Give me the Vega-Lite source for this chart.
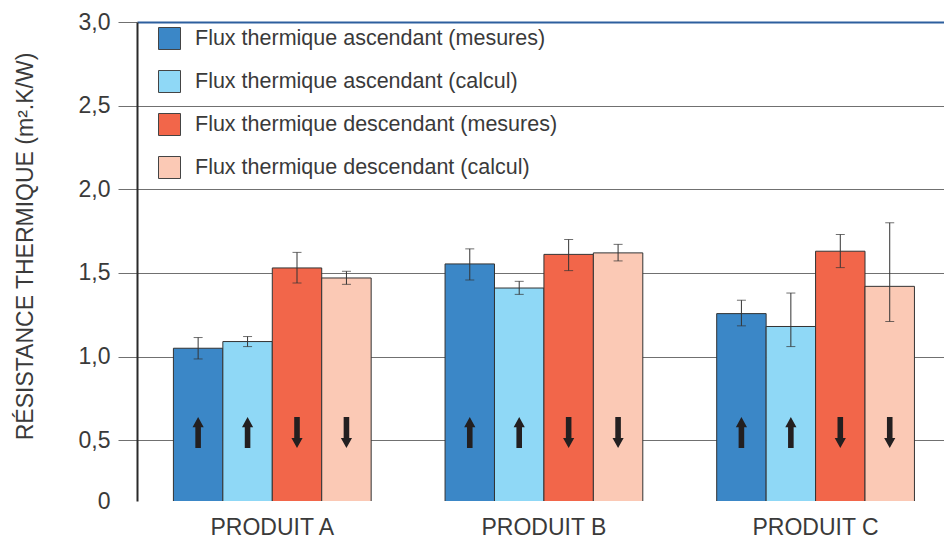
{
  "$schema": "https://vega.github.io/schema/vega-lite/v6.json",
  "autosize": "none",
  "width": 807,
  "height": 479,
  "padding": {"left": 137, "top": 22, "right": 0, "bottom": 35},
  "background": "white",
  "config": {
    "font": "Liberation Sans",
    "view": {"stroke": null}
  },
  "data": {
    "values": [
      {"produit": "PRODUIT A", "serie": "Flux thermique ascendant (mesures)", "flux": "ascendant", "valeur": 1.05, "bas": 0.986, "haut": 1.114},
      {"produit": "PRODUIT A", "serie": "Flux thermique ascendant (calcul)", "flux": "ascendant", "valeur": 1.09, "bas": 1.06, "haut": 1.12},
      {"produit": "PRODUIT A", "serie": "Flux thermique descendant (mesures)", "flux": "descendant", "valeur": 1.53, "bas": 1.44, "haut": 1.623},
      {"produit": "PRODUIT A", "serie": "Flux thermique descendant (calcul)", "flux": "descendant", "valeur": 1.47, "bas": 1.432, "haut": 1.51},
      {"produit": "PRODUIT B", "serie": "Flux thermique ascendant (mesures)", "flux": "ascendant", "valeur": 1.554, "bas": 1.458, "haut": 1.644},
      {"produit": "PRODUIT B", "serie": "Flux thermique ascendant (calcul)", "flux": "ascendant", "valeur": 1.41, "bas": 1.372, "haut": 1.45},
      {"produit": "PRODUIT B", "serie": "Flux thermique descendant (mesures)", "flux": "descendant", "valeur": 1.611, "bas": 1.514, "haut": 1.70},
      {"produit": "PRODUIT B", "serie": "Flux thermique descendant (calcul)", "flux": "descendant", "valeur": 1.62, "bas": 1.572, "haut": 1.671},
      {"produit": "PRODUIT C", "serie": "Flux thermique ascendant (mesures)", "flux": "ascendant", "valeur": 1.257, "bas": 1.184, "haut": 1.337},
      {"produit": "PRODUIT C", "serie": "Flux thermique ascendant (calcul)", "flux": "ascendant", "valeur": 1.18, "bas": 1.06, "haut": 1.38},
      {"produit": "PRODUIT C", "serie": "Flux thermique descendant (mesures)", "flux": "descendant", "valeur": 1.63, "bas": 1.532, "haut": 1.73},
      {"produit": "PRODUIT C", "serie": "Flux thermique descendant (calcul)", "flux": "descendant", "valeur": 1.42, "bas": 1.21, "haut": 1.80}
    ]
  },
  "encoding": {
    "x": {
      "field": "produit",
      "type": "nominal",
      "scale": {"paddingInner": 0.272, "paddingOuter": 0.1214, "align": 0.552},
      "axis": {
        "title": null,
        "domain": false,
        "ticks": false,
        "tickSize": 0,
        "labelAngle": 0,
        "labelFontSize": 23,
        "labelColor": "#3a3a3a",
        "labelBaseline": "alphabetic",
        "labelPadding": 33
      }
    },
    "xOffset": {
      "field": "serie",
      "type": "nominal",
      "sort": ["Flux thermique ascendant (mesures)", "Flux thermique ascendant (calcul)", "Flux thermique descendant (mesures)", "Flux thermique descendant (calcul)"],
      "scale": {"paddingInner": 0, "paddingOuter": 0}
    }
  },
  "layer": [
    {
      "mark": {"type": "bar", "stroke": "#333333", "strokeWidth": 1, "clip": true},
      "encoding": {
        "y": {
          "field": "valeur",
          "type": "quantitative",
          "scale": {"domain": [0.137, 3], "zero": false, "nice": false},
          "axis": {
            "title": "RÉSISTANCE THERMIQUE (m².K/W)",
            "titleFontSize": 23,
            "titleFontWeight": "normal",
            "titleColor": "#3a3a3a",
            "titleX": -105,
            "titleY": 224,
            "titleBaseline": "alphabetic",
            "values": [0.137, 0.5, 1, 1.5, 2, 2.5, 3],
            "labelExpr": "datum.value < 0.2 ? '0' : replace(format(datum.value, '.1f'), '.', ',')",
            "labelFontSize": 23,
            "labelColor": "#3a3a3a",
            "labelPadding": 8,
            "labelOverlap": false,
            "labelBound": false,
            "labelFlush": false,
            "tickSize": 19,
            "tickColor": "#707070",
            "tickOpacity": {"condition": {"test": "datum.value < 0.2", "value": 0}, "value": 1},
            "domainColor": "#2a2a2a",
            "domainWidth": 2,
            "grid": true,
            "gridColor": {"condition": {"test": "datum.value > 2.9", "value": "#2d5f9e"}, "value": "#707070"},
            "gridWidth": {"condition": {"test": "datum.value > 2.9", "value": 2}, "value": 1},
            "gridOpacity": {"condition": {"test": "datum.value < 0.2", "value": 0}, "value": 1}
          }
        },
        "color": {
          "field": "serie",
          "type": "nominal",
          "sort": ["Flux thermique ascendant (mesures)", "Flux thermique ascendant (calcul)", "Flux thermique descendant (mesures)", "Flux thermique descendant (calcul)"],
          "scale": {
            "domain": ["Flux thermique ascendant (mesures)", "Flux thermique ascendant (calcul)", "Flux thermique descendant (mesures)", "Flux thermique descendant (calcul)"],
            "range": ["#3b87c7", "#8fd8f6", "#f2664a", "#fbc9b5"]
          },
          "legend": {
            "title": null,
            "orient": "none",
            "legendX": 21,
            "legendY": 5,
            "padding": 0,
            "symbolType": "square",
            "symbolSize": 484,
            "symbolStrokeColor": "#444444",
            "symbolStrokeWidth": 1,
            "symbolOpacity": 1,
            "labelFontSize": 21.5,
            "labelColor": "#3a3a3a",
            "labelOffset": 14,
            "labelLimit": 500,
            "rowPadding": 16
          }
        }
      }
    },
    {
      "mark": {"type": "rule", "color": "#333333", "strokeWidth": 1},
      "encoding": {
        "y": {"field": "bas", "type": "quantitative"},
        "y2": {"field": "haut"}
      }
    },
    {
      "mark": {"type": "tick", "color": "#333333", "thickness": 1, "size": 9},
      "encoding": {
        "y": {"field": "bas", "type": "quantitative"}
      }
    },
    {
      "mark": {"type": "tick", "color": "#333333", "thickness": 1, "size": 9},
      "encoding": {
        "y": {"field": "haut", "type": "quantitative"}
      }
    },
    {
      "mark": {"type": "point", "filled": true, "color": "#231f20", "opacity": 1, "size": 961, "strokeWidth": 0},
      "encoding": {
        "y": {"datum": 0.546, "type": "quantitative"},
        "shape": {
          "field": "flux",
          "type": "nominal",
          "scale": {
            "domain": ["ascendant", "descendant"],
            "range": ["M0,-1L0.36,-0.35L0.18,-0.35L0.18,1L-0.18,1L-0.18,-0.35L-0.36,-0.35Z", "M0,1L0.36,0.35L0.18,0.35L0.18,-1L-0.18,-1L-0.18,0.35L-0.36,0.35Z"]
          },
          "legend": null
        }
      }
    }
  ]
}
